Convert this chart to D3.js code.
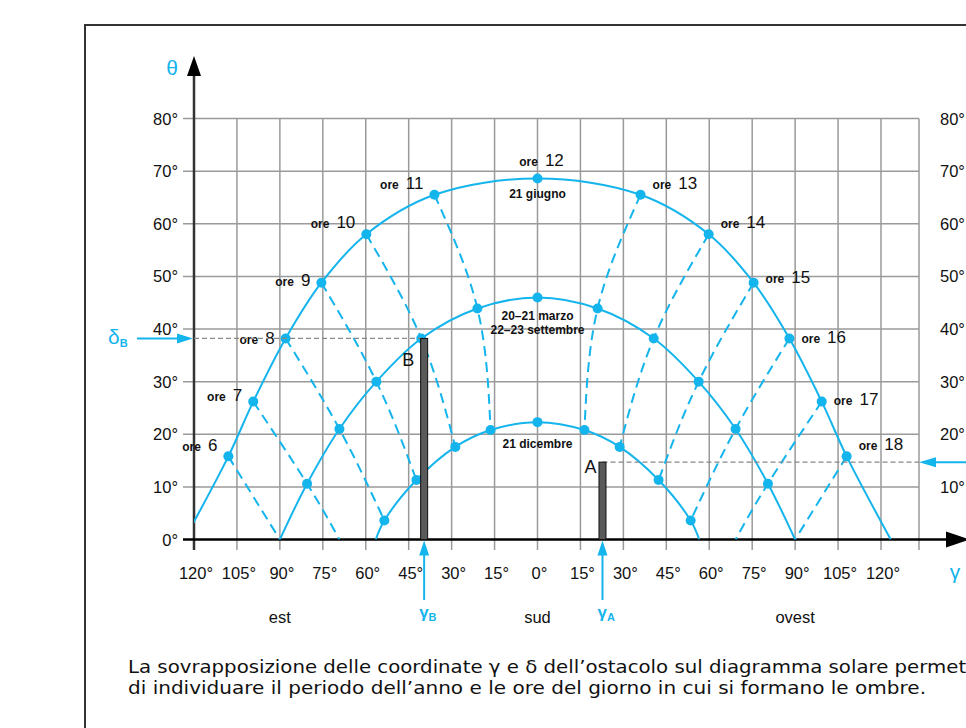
<!DOCTYPE html>
<html><head><meta charset="utf-8">
<script src="https://cdn.jsdelivr.net/npm/d3@7"></script>
<style>body{margin:0;background:#fff;overflow:hidden} svg{display:block}</style>
</head><body>
<svg id="c" width="966" height="728"></svg>
<script>
// ---------------- DATA ----------------
const hours      = [6, 7, 8, 9, 10, 11, 12, 13, 14, 15, 16, 17, 18];
const juneAz     = [-108, -99.3, -88, -75.5, -59.8, -36, 0, 36, 59.8, 75.5, 88, 99.3, 108];
const juneAlt    = [15.8, 26.2, 38.2, 48.8, 58.0, 65.5, 68.6, 65.5, 58.0, 48.8, 38.2, 26.2, 15.8];
const juneRiseAz = 123.4;
const equinoxAz  = [-90, -80.5, -69.2, -56.3, -40.6, -21, 0, 21, 40.6, 56.3, 69.2, 80.5, 90];
const equinoxAlt = [0, 10.6, 21.0, 30.0, 38.2, 43.9, 46.0, 43.9, 38.2, 30.0, 21.0, 10.6, 0];
const decHours   = [8, 9, 10, 11, 12, 13, 14, 15, 16];
const decAz      = [-53.5, -42.3, -28.7, -16.4, 0, 16.4, 28.7, 42.3, 53.5];
const decAlt     = [3.6, 11.3, 17.6, 20.8, 22.3, 20.8, 17.6, 11.3, 3.6];
const decRiseAz  = 56.5;
const hour7HorizonAz = 69.2;   // where the 7h / 17h hour-lines meet the horizon
const xTicks = [-120, -105, -90, -75, -60, -45, -30, -15, 0, 15, 30, 45, 60, 75, 90, 105, 120];
const yTicks = [0, 10, 20, 30, 40, 50, 60, 70, 80];
const obstacleNames  = ["A", "B"];
const obstacleGamma  = [22.7, -39.6];
const obstacleDelta  = [14.7, 38.2];
const dateLabels = ["21 giugno", "20\u201321 marzo", "22\u201323 settembre", "21 dicembre"];
const sideLabels = ["est", "sud", "ovest"];
const sideAz     = [-90, 0, 90];
const caption = [
  "La sovrapposizione delle coordinate \u03b3 e \u03b4 dell\u2019ostacolo sul diagramma solare permette",
  "di individuare il periodo dell\u2019anno e le ore del giorno in cui si formano le ombre."
];

// ---------------- LAYOUT ----------------
const BLUE = "#14b4ec";
const FONT = "'Liberation Sans', Arial, sans-serif";
const svg = d3.select("#c");
const x = d3.scaleLinear().domain([-120, 120]).range([194, 881]);
const y = d3.scaleLinear().domain([0, 80]).range([539.5, 118.5]);
const gridRight = 919, axisLeft = 183, gridBottom = 550;

// frame
svg.append("rect").attr("x", 85).attr("y", 25).attr("width", 920).attr("height", 740)
  .attr("fill", "none").attr("stroke", "#333").attr("stroke-width", 2);

// grid
const g = svg.append("g");
g.selectAll(".hg").data(yTicks.filter(d => d > 0)).join("line")
  .attr("x1", axisLeft).attr("x2", gridRight).attr("y1", d => y(d)).attr("y2", d => y(d))
  .attr("stroke", "#9a9a9a").attr("stroke-width", 1.5);
g.selectAll(".vg").data(xTicks.filter(d => d > -120)).join("line")
  .attr("x1", d => x(d)).attr("x2", d => x(d)).attr("y1", y(80)).attr("y2", gridBottom)
  .attr("stroke", "#9a9a9a").attr("stroke-width", 1.5);
g.append("line").attr("x1", gridRight).attr("x2", gridRight).attr("y1", y(80)).attr("y2", gridBottom)
  .attr("stroke", "#9a9a9a").attr("stroke-width", 1.5);

// axes
svg.append("line").attr("x1", x(-120)).attr("x2", x(-120)).attr("y1", gridBottom).attr("y2", 74)
  .attr("stroke", "#333").attr("stroke-width", 2.5);
svg.append("path").attr("d", `M${x(-120)-7},76 L${x(-120)+7},76 L${x(-120)},56 Z`).attr("fill", "#000");
svg.append("line").attr("x1", axisLeft).attr("x2", 948).attr("y1", y(0)).attr("y2", y(0))
  .attr("stroke", "#000").attr("stroke-width", 2.5);
svg.append("path").attr("d", `M946,${y(0)-8} L946,${y(0)+8} L970,${y(0)} Z`).attr("fill", "#000");

// tick labels
const tl = svg.append("g").attr("font-family", FONT).attr("font-size", 16.5).attr("fill", "#111");
tl.selectAll(".yl").data(yTicks).join("text")
  .attr("x", 178).attr("y", d => y(d) + 6).attr("text-anchor", "end").text(d => d + "\u00b0");
tl.selectAll(".yr").data(yTicks.filter(d => d > 0)).join("text")
  .attr("x", 940).attr("y", d => y(d) + 6).text(d => d + "\u00b0");
tl.selectAll(".xl").data(xTicks).join("text")
  .attr("x", d => x(d) + 2).attr("y", 579).attr("text-anchor", "middle").text(d => Math.abs(d) + "\u00b0");
tl.selectAll(".sl").data(sideLabels).join("text")
  .attr("x", (d, i) => x(sideAz[i])).attr("y", 623).attr("text-anchor", "middle").text(d => d);

// axis symbols
svg.append("text").attr("x", 172).attr("y", 75).attr("text-anchor", "middle").attr("font-family", FONT)
  .attr("font-size", 21).attr("fill", BLUE).text("\u03b8");
svg.append("text").attr("x", 955).attr("y", 579).attr("text-anchor", "middle").attr("font-family", FONT)
  .attr("font-size", 21).attr("fill", BLUE).text("\u03b3");

// ---------------- CURVES ----------------
const clipId = "plotclip";
svg.append("clipPath").attr("id", clipId).append("rect")
  .attr("x", x(-120)).attr("y", 0).attr("width", 740).attr("height", y(0));
const curves = svg.append("g").attr("clip-path", `url(#${clipId})`);
const line = d3.line().x(d => x(d[0])).y(d => y(d[1])).curve(d3.curveCatmullRom.alpha(0.5));

const junePts = [[-juneRiseAz, 0], ...juneAz.map((a, i) => [a, juneAlt[i]]), [juneRiseAz, 0]];
const eqPts = equinoxAz.map((a, i) => [a, equinoxAlt[i]]);
const decPts = [[-decRiseAz, 0], ...decAz.map((a, i) => [a, decAlt[i]]), [decRiseAz, 0]];
[junePts, eqPts, decPts].forEach(p => curves.append("path").attr("d", line(p))
  .attr("fill", "none").attr("stroke", BLUE).attr("stroke-width", 2));

// hour lines (dashed)
const hourLines = hours.filter(h => h !== 12).map(h => {
  const i = hours.indexOf(h);
  const pts = [[juneAz[i], juneAlt[i]], [equinoxAz[i], equinoxAlt[i]]];
  const j = decHours.indexOf(h);
  if (j >= 0) pts.push([decAz[j], decAlt[j]]);
  else if (equinoxAlt[i] > 0) pts.push([Math.sign(equinoxAz[i]) * hour7HorizonAz, 0]);
  return pts;
});
const hline = d3.line().x(d => x(d[0])).y(d => y(d[1])).curve(d3.curveNatural);
hourLines.forEach(p => curves.append("path").attr("d", hline(p))
  .attr("fill", "none").attr("stroke", BLUE).attr("stroke-width", 2).attr("stroke-dasharray", "10,6"));

// dots
const dots = [...juneAz.map((a, i) => [a, juneAlt[i]]),
  ...equinoxAz.map((a, i) => [a, equinoxAlt[i]]).filter(d => d[1] > 0),
  ...decAz.map((a, i) => [a, decAlt[i]])];
svg.selectAll(".dot").data(dots).join("circle")
  .attr("cx", d => x(d[0])).attr("cy", d => y(d[1])).attr("r", 5).attr("fill", BLUE);

// hour labels
const labDy = {6: -5, 7: -1, 8: 6, 9: 3, 10: -6, 11: -6, 12: -12, 13: -6, 14: -6, 15: 0, 16: 5, 17: 3, 18: -6};
const hl = svg.append("g").attr("font-family", FONT).attr("fill", "#111");
hours.forEach((h, i) => {
  const px = x(juneAz[i]), py = y(juneAlt[i]);
  const t = hl.append("text");
  if (h < 12) t.attr("x", px - 11).attr("text-anchor", "end");
  else if (h > 12) t.attr("x", px + 12).attr("text-anchor", "start");
  else t.attr("x", px + 4).attr("text-anchor", "middle");
  t.attr("y", py + labDy[h]);
  t.append("tspan").attr("font-size", 12).attr("font-weight", "bold").text("ore");
  t.append("tspan").attr("dx", 7).attr("font-size", 17).text(h);
});

// date labels
const dl = svg.append("g").attr("font-family", FONT).attr("font-size", 12).attr("font-weight", "bold")
  .attr("fill", "#111").attr("text-anchor", "middle");
dl.append("text").attr("x", x(0)).attr("y", y(68.6) + 20).text(dateLabels[0]);
dl.append("text").attr("x", x(0)).attr("y", y(46) + 23).text(dateLabels[1]);
dl.append("text").attr("x", x(0)).attr("y", y(46) + 37).text(dateLabels[2]);
dl.append("text").attr("x", x(0)).attr("y", y(22.3) + 26).text(dateLabels[3]);

// ---------------- OBSTACLES ----------------
obstacleNames.forEach((n, i) => {
  const gx = x(obstacleGamma[i]), dy = y(obstacleDelta[i]);
  if (obstacleGamma[i] < 0)
    svg.append("line").attr("x1", x(-120)).attr("x2", gx).attr("y1", dy).attr("y2", dy)
      .attr("stroke", "#888").attr("stroke-width", 1.2).attr("stroke-dasharray", "5,3");
  else
    svg.append("line").attr("x1", gx).attr("x2", gridRight).attr("y1", dy).attr("y2", dy)
      .attr("stroke", "#888").attr("stroke-width", 1.2).attr("stroke-dasharray", "5,3");
  svg.append("rect").attr("x", gx - 3.5).attr("y", dy).attr("width", 7).attr("height", y(0) - dy)
    .attr("fill", "#5a5a5a").attr("stroke", "#111").attr("stroke-width", 1);
  svg.append("text").attr("x", gx - (i === 1 ? 10 : 6)).attr("y", dy + (i === 1 ? 28 : 11)).attr("text-anchor", "end")
    .attr("font-family", FONT).attr("font-size", 18).attr("fill", "#111").text(n);
  svg.append("line").attr("x1", gx).attr("x2", gx).attr("y1", 600).attr("y2", y(0) + 14)
    .attr("stroke", BLUE).attr("stroke-width", 2);
  svg.append("path").attr("d", `M${gx-5},${y(0)+16} L${gx+5},${y(0)+16} L${gx},${y(0)+1} Z`).attr("fill", BLUE);
  const gt = svg.append("text").attr("x", gx - 5).attr("y", 618).attr("font-family", FONT)
    .attr("font-size", 17).attr("font-weight", "bold").attr("fill", BLUE);
  gt.append("tspan").text("\u03b3");
  gt.append("tspan").attr("font-size", 11).attr("dy", 3).text(n);
  if (obstacleGamma[i] < 0) {
    svg.append("line").attr("x1", 137).attr("x2", 180).attr("y1", dy).attr("y2", dy).attr("stroke", BLUE).attr("stroke-width", 2);
    svg.append("path").attr("d", `M177,${dy-5} L177,${dy+5} L${x(-120)-1},${dy} Z`).attr("fill", BLUE);
    const dt = svg.append("text").attr("x", 108).attr("y", dy + 6).attr("font-family", FONT)
      .attr("font-size", 21).attr("fill", BLUE);
    dt.append("tspan").text("\u03b4");
    dt.append("tspan").attr("font-size", 11).attr("font-weight", "bold").attr("dy", 3).text(n);
  } else {
    svg.append("line").attr("x1", 934).attr("x2", 970).attr("y1", dy).attr("y2", dy).attr("stroke", BLUE).attr("stroke-width", 2);
    svg.append("path").attr("d", `M936,${dy-5} L936,${dy+5} L${gridRight},${dy} Z`).attr("fill", BLUE);
  }
});

// ---------------- CAPTION ----------------
const cap = svg.append("g").attr("font-family", "'DejaVu Sans', sans-serif").attr("font-size", 17).attr("fill", "#111");
cap.append("text").attr("x", 128).attr("y", 673).attr("textLength", 858).attr("lengthAdjust", "spacingAndGlyphs").text(caption[0]);
cap.append("text").attr("x", 128).attr("y", 694).attr("textLength", 798).attr("lengthAdjust", "spacingAndGlyphs").text(caption[1]);
</script>
</body></html>
